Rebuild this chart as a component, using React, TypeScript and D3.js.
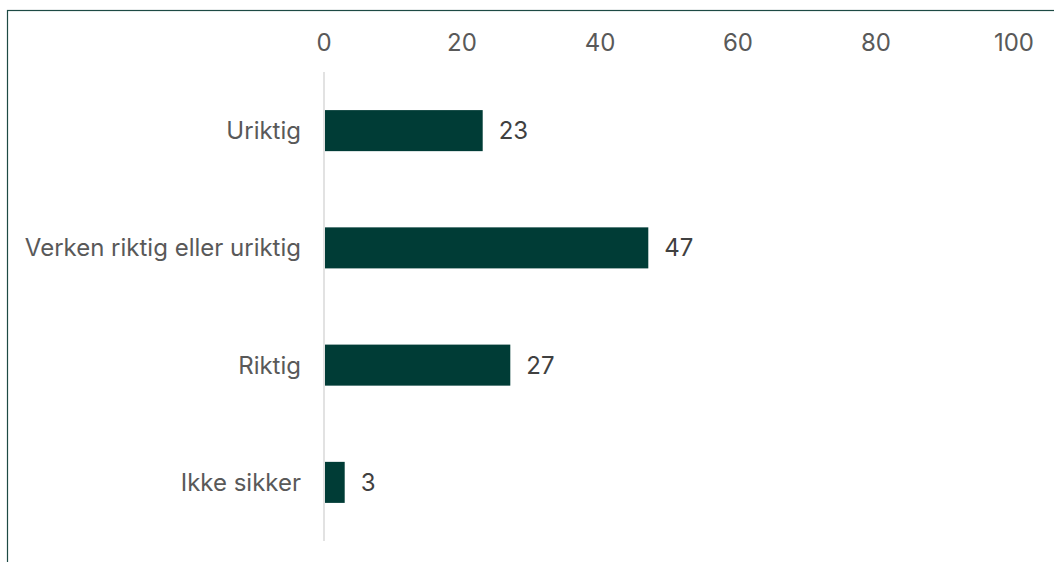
import React from "react";
import * as d3 from "d3";

const categories = ["Uriktig", "Verken riktig eller uriktig", "Riktig", "Ikke sikker"];
const values = [23, 47, 27, 3];
const tickValues = [0, 20, 40, 60, 80, 100];

const W = 1054;
const H = 562;

export default function App() {
  const x = d3.scaleLinear().domain([0, 100]).range([324, 1014]);
  const y = d3.scaleBand<string>().domain(categories).range([72, 541]).paddingInner(0.65).paddingOuter(0.325);
  const font = "Inter, 'Noto Sans', sans-serif";
  const grey = "#595959";
  const fs = 24;
  return (
    <svg width={W} height={H} style={{ position: "fixed", left: 0, top: 0 }} fontFamily={font}>
      <rect x={0} y={0} width={W} height={H} fill="#ffffff" />
      <rect x={7.5} y={10.5} width={W + 20} height={H + 20} fill="none" stroke="#1d4a44" strokeWidth={1.2} />
      {tickValues.map((t) => (
        <text key={t} x={x(t)} y={42} textAnchor="middle" dominantBaseline="central" fontSize={fs} fill={grey}>
          {t}
        </text>
      ))}
      <line x1={x(0)} x2={x(0)} y1={72} y2={541} stroke="#d9d9d9" strokeWidth={1.5} />
      {categories.map((c, i) => {
        const yc = (y(c) ?? 0) + y.bandwidth() / 2;
        return (
          <g key={c}>
            <rect x={x(0) + 1} y={y(c)} width={x(values[i]) - x(0) - 1} height={y.bandwidth()} fill="#003c36" />
            <text x={301} y={yc} textAnchor="end" dominantBaseline="central" fontSize={fs} fill={grey}>
              {c}
            </text>
            <text x={x(values[i]) + 16} y={yc} textAnchor="start" dominantBaseline="central" fontSize={fs} fill="#404040">
              {values[i]}
            </text>
          </g>
        );
      })}
    </svg>
  );
}
